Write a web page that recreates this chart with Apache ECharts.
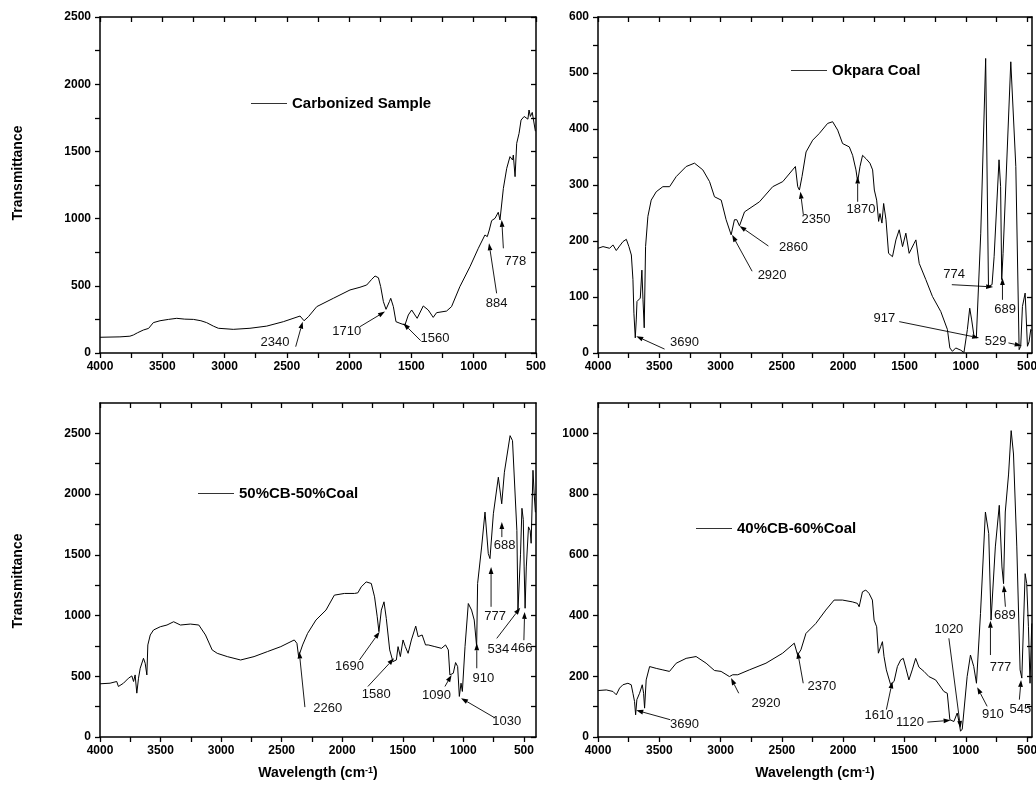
<!DOCTYPE html>
<html>
<head>
<meta charset="utf-8">
<script src="https://cdn.jsdelivr.net/npm/echarts@6/dist/echarts.min.js"></script>
<style>
html,body{margin:0;padding:0;background:#fff;}
#chart{width:1036px;height:792px;}
</style>
</head>
<body>
<div id="chart"></div>
<script>
// ---------- data (wavenumber, transmittance) ----------
const carbonized = [[4000,117],[3840,120],[3760,125],[3732,134],[3700,150],[3652,171],[3610,183],[3572,226],[3518,240],[3450,250],[3384,258],[3320,252],[3250,250],[3190,240],[3144,226],[3090,200],[3050,184],[2930,176],[2796,184],[2662,200],[2528,233],[2394,275],[2381,263],[2362,240],[2327,270],[2260,345],[2127,407],[1993,469],[1913,489],[1859,506],[1819,548],[1792,573],[1765,560],[1747,494],[1725,382],[1704,325],[1677,382],[1666,407],[1645,345],[1624,233],[1592,221],[1552,208],[1525,283],[1498,320],[1472,283],[1454,258],[1405,350],[1365,320],[1325,265],[1298,300],[1218,312],[1178,345],[1111,494],[1030,642],[963,779],[910,878],[891,866],[875,915],[856,985],[829,1002],[803,1047],[789,990],[762,1225],[735,1374],[709,1461],[688,1436],[682,1473],[668,1312],[655,1560],[636,1634],[620,1733],[595,1760],[580,1770],[565,1740],[556,1808],[545,1760],[530,1790],[515,1780],[505,1650]];

const okpara = [[4000,187],[3959,190],[3905,187],[3878,193],[3851,183],[3824,191],[3796,199],[3769,203],[3748,190],[3728,175],[3715,131],[3707,71],[3696,27],[3688,59],[3682,92],[3666,89],[3655,98],[3642,148],[3633,95],[3623,45],[3612,190],[3593,244],[3566,273],[3525,288],[3471,297],[3416,297],[3362,315],[3281,333],[3213,339],[3145,327],[3090,306],[3050,279],[2995,273],[2955,238],[2914,211],[2887,238],[2868,238],[2846,227],[2805,252],[2683,270],[2575,297],[2493,306],[2390,333],[2371,297],[2357,291],[2336,315],[2303,359],[2249,380],[2195,392],[2127,410],[2086,413],[2045,398],[2005,374],[1950,368],[1923,353],[1896,327],[1882,306],[1863,333],[1842,353],[1814,347],[1782,339],[1760,327],[1746,291],[1727,273],[1711,235],[1700,249],[1684,232],[1670,267],[1651,238],[1630,178],[1598,172],[1570,202],[1543,220],[1516,190],[1489,214],[1462,178],[1421,196],[1407,202],[1380,160],[1326,131],[1272,101],[1204,74],[1150,42],[1130,9],[1109,3],[1082,9],[1041,5],[1015,1],[987,42],[968,80],[952,59],[933,30],[914,27],[878,214],[838,526],[815,119],[786,122],[769,172],[729,345],[716,297],[707,131],[696,178],[633,520],[592,333],[565,6],[552,12],[538,83],[516,107],[497,12],[484,20],[470,42],[462,40]];

const cb50 = [[4000,438],[3917,443],[3862,457],[3848,416],[3806,443],[3765,484],[3737,503],[3723,457],[3710,511],[3696,361],[3682,484],[3668,566],[3654,558],[3641,648],[3627,607],[3613,511],[3605,758],[3585,840],[3558,881],[3502,908],[3447,922],[3392,949],[3336,922],[3254,930],[3184,922],[3129,840],[3074,717],[3032,689],[2949,662],[2839,634],[2728,662],[2618,703],[2507,744],[2396,799],[2374,771],[2360,662],[2327,758],[2286,853],[2217,963],[2134,1045],[2065,1168],[1982,1182],[1899,1182],[1871,1187],[1843,1236],[1802,1277],[1760,1264],[1733,1154],[1711,990],[1697,867],[1677,1045],[1655,1113],[1636,976],[1608,717],[1581,621],[1553,634],[1539,744],[1520,662],[1498,799],[1479,744],[1456,689],[1429,799],[1393,913],[1373,826],[1340,840],[1312,758],[1290,758],[1235,744],[1180,730],[1147,758],[1124,717],[1111,511],[1083,525],[1064,613],[1047,580],[1033,334],[1019,443],[1008,375],[986,744],[959,1099],[932,1045],[910,963],[890,744],[882,1264],[849,1564],[821,1852],[794,1510],[780,1469],[752,1838],[711,2139],[683,1920],[661,2180],[614,2481],[594,2440],[558,1701],[549,1044],[540,1060],[528,1500],[516,1883],[505,1790],[498,1400],[490,1060],[480,1400],[462,1730],[448,1700],[440,1595],[425,2196],[415,2000],[405,1850]];

const cb40 = [[4000,153],[3932,155],[3878,150],[3851,139],[3824,161],[3797,172],[3756,177],[3729,172],[3715,144],[3702,117],[3693,73],[3683,123],[3661,144],[3639,172],[3628,144],[3620,95],[3607,188],[3579,232],[3525,226],[3471,221],[3417,216],[3362,243],[3281,259],[3200,265],[3118,243],[3050,219],[2996,216],[2928,199],[2901,205],[2860,205],[2766,221],[2630,243],[2494,276],[2399,309],[2386,314],[2372,270],[2345,287],[2304,341],[2223,374],[2142,418],[2074,451],[2006,451],[1925,445],[1884,440],[1870,429],[1843,478],[1816,484],[1789,473],[1762,451],[1748,385],[1727,363],[1713,276],[1694,298],[1680,314],[1667,265],[1648,221],[1613,172],[1585,183],[1558,232],[1531,254],[1510,259],[1485,221],[1464,188],[1437,221],[1409,259],[1382,230],[1341,216],[1301,199],[1246,188],[1179,150],[1151,144],[1130,57],[1097,51],[1070,79],[1056,51],[1043,19],[1029,26],[1016,24],[989,199],[962,270],[935,232],[913,177],[880,407],[840,741],[813,670],[794,385],[780,385],[759,626],[727,763],[705,560],[692,505],[678,741],[651,866],[630,1009],[611,932],[584,626],[557,221],[543,194],[516,538],[503,505],[489,363],[476,177],[462,374]];

// ---------- annotations: [label, textX, textY, lineStartX, lineStartY, tipX, tipY] ----------
const annCarbonized = [
  ['2340',2595,77,2429,47,2373,233],
  ['1710',2020,159,1913,196,1712,308],
  ['1560',1311,109,1426,92,1565,221],
  ['884',816,370,816,444,877,816],
  ['778',665,685,762,779,775,990]
];
const annOkpara = [
  ['3690',3294,18,3457,7,3688,30],
  ['2920',2580,138,2743,146,2906,211],
  ['2860',2406,189,2610,191,2846,227],
  ['2350',2222,238,2325,247,2349,288],
  ['1870',1855,257,1882,270,1882,315],
  ['774',1095,140,1114,122,777,118],
  ['689',680,78,701,95,701,134],
  ['917',1665,62,1543,56,891,27],
  ['529',756,21,652,18,544,13]
];
const annCb50 = [
  ['2260',2120,238,2308,246,2355,703],
  ['1690',1940,580,1857,635,1691,867],
  ['1580',1719,347,1788,416,1572,648],
  ['1090',1221,339,1152,416,1097,511],
  ['1030',641,129,737,156,1019,320],
  ['910',834,484,889,566,889,771],
  ['777',737,996,771,1072,771,1400],
  ['688',660,1578,682,1646,682,1770],
  ['534',710,722,724,812,530,1064],
  ['466',518,731,500,797,494,1030]
];
const annCb40 = [
  ['3690',3295,40,3411,57,3688,88],
  ['2920',2630,112,2852,144,2915,194],
  ['2370',2174,166,2326,177,2372,281],
  ['1610',1708,71,1648,90,1599,183],
  ['1120',1455,49,1314,49,1124,55],
  ['1020',1138,354,1138,325,1043,30],
  ['910',780,75,826,101,907,164],
  ['777',717,230,799,270,799,383],
  ['689',682,402,677,429,690,500],
  ['545',555,90,563,123,549,188]
];

// ---------- labels & ticks ----------
const seriesNames = ['Carbonized Sample','Okpara Coal','50%CB-50%Coal','40%CB-60%Coal'];
const xLabels = [500,1000,1500,2000,2500,3000,3500,4000];
const xTicks = [500,750,1000,1250,1500,1750,2000,2250,2500,2750,3000,3250,3500,3750,4000];
const yLabelsCarb = [0,500,1000,1500,2000,2500];
const yTicksCarb = [0,250,500,750,1000,1250,1500,1750,2000,2250,2500];
const yLabelsOkp = [0,100,200,300,400,500,600];
const yTicksOkp = [0,50,100,150,200,250,300,350,400,450,500,550,600];
const yLabelsCb50 = [0,500,1000,1500,2000,2500];
const yTicksCb50 = [0,250,500,750,1000,1250,1500,1750,2000,2250,2500];
const yLabelsCb40 = [0,200,400,600,800,1000];
const yTicksCb40 = [0,100,200,300,400,500,600,700,800,900,1000];

const FONT = '"Liberation Sans", Arial, Helvetica, sans-serif';

const panels = [
  {data:carbonized, ann:annCarbonized, xMin:500, yMax:2500, yL:yLabelsCarb, yT:yTicksCarb,
   grid:{left:100, top:17, right:500, bottom:439}, legend:{left:251, top:96}},
  {data:okpara, ann:annOkpara, xMin:460, yMax:600, yL:yLabelsOkp, yT:yTicksOkp,
   grid:{left:598, top:17, right:4, bottom:439}, legend:{left:791, top:63}},
  {data:cb50, ann:annCb50, xMin:400, yMax:2750, yL:yLabelsCb50, yT:yTicksCb50,
   grid:{left:100, top:403, right:500, bottom:55}, legend:{left:198, top:486}},
  {data:cb40, ann:annCb40, xMin:460, yMax:1100, yL:yLabelsCb40, yT:yTicksCb40,
   grid:{left:598, top:403, right:4, bottom:55}, legend:{left:696, top:521}}
];

const axisLineStyle = {color:'#000', width:1.5};
const fmt = v => String(v);
const grids = [], xAxes = [], yAxes = [], series = [], legends = [];

function annRender(list){
  return function(params, api){
    const a = list[params.dataIndex];
    const t = api.coord([a[1], a[2]]);
    const s = api.coord([a[3], a[4]]);
    const e = api.coord([a[5], a[6]]);
    const dx = e[0]-s[0], dy = e[1]-s[1];
    const L = Math.sqrt(dx*dx+dy*dy) || 1;
    const ux = dx/L, uy = dy/L;
    const hl = 7, hw = 2.4;
    const bx = e[0]-ux*hl, by = e[1]-uy*hl;
    return {type:'group', children:[
      {type:'line', shape:{x1:s[0], y1:s[1], x2:bx, y2:by}, style:{stroke:'#000', lineWidth:0.9}},
      {type:'polygon', shape:{points:[[e[0],e[1]],[bx-uy*hw, by+ux*hw],[bx+uy*hw, by-ux*hw]]}, style:{fill:'#000'}},
      {type:'text', x:t[0], y:t[1], style:{text:a[0], align:'center', verticalAlign:'middle',
        font:'13px ' + FONT, fill:'#111'}}
    ]};
  };
}

panels.forEach((p, i) => {
  grids.push(Object.assign({containLabel:false, outerBoundsMode:'none'}, p.grid));
  xAxes.push({gridIndex:i, type:'value', inverse:true, min:p.xMin, max:4000, position:'bottom',
    axisLine:{show:true, onZero:false, lineStyle:axisLineStyle},
    axisTick:{show:true, inside:false, length:5, customValues:xTicks, lineStyle:{color:'#000', width:1.3}},
    axisLabel:{show:true, customValues:xLabels, formatter:fmt, margin:8, fontWeight:'bold', fontSize:12, color:'#000', fontFamily:FONT},
    splitLine:{show:false}});
  xAxes.push({gridIndex:i, type:'value', inverse:true, min:p.xMin, max:4000, position:'top',
    axisLine:{show:true, onZero:false, lineStyle:axisLineStyle},
    axisTick:{show:true, inside:true, length:5, customValues:xTicks, lineStyle:{color:'#000', width:1.3}},
    axisLabel:{show:false}, splitLine:{show:false}});
  yAxes.push({gridIndex:i, type:'value', min:0, max:p.yMax, position:'left',
    axisLine:{show:true, onZero:false, lineStyle:axisLineStyle},
    axisTick:{show:true, inside:false, length:5, customValues:p.yT, lineStyle:{color:'#000', width:1.3}},
    axisLabel:{show:true, customValues:p.yL, formatter:fmt, margin:9, fontWeight:'bold', fontSize:12, color:'#000', fontFamily:FONT},
    splitLine:{show:false}});
  yAxes.push({gridIndex:i, type:'value', min:0, max:p.yMax, position:'right',
    axisLine:{show:true, onZero:false, lineStyle:axisLineStyle},
    axisTick:{show:true, inside:true, length:5, customValues:p.yT, lineStyle:{color:'#000', width:1.3}},
    axisLabel:{show:false}, splitLine:{show:false}});

  series.push({type:'line', name:seriesNames[i], xAxisIndex:i*2, yAxisIndex:i*2, data:p.data,
    symbol:'none', showSymbol:false, lineStyle:{color:'#000', width:1}, itemStyle:{color:'#000'},
    animation:false, z:3});
  series.push({type:'custom', xAxisIndex:i*2, yAxisIndex:i*2, clip:false, animation:false, z:4,
    data:p.ann.map(a => [a[1], a[2]]), encode:{x:0, y:1}, renderItem:annRender(p.ann), silent:true});

  legends.push({data:[seriesNames[i]], left:p.legend.left, top:p.legend.top, padding:0,
    icon:'rect', itemWidth:36, itemHeight:1, itemStyle:{color:'#333'}, selectedMode:false,
    textStyle:{fontWeight:'bold', fontSize:15, color:'#000', fontFamily:FONT}});
});

const titleFont = 'bold 14px ' + FONT;
const graphic = [
  {type:'text', x:18, y:173, rotation:Math.PI/2, style:{text:'Transmittance', font:titleFont, fill:'#000', align:'center', verticalAlign:'middle'}},
  {type:'text', x:18, y:581, rotation:Math.PI/2, style:{text:'Transmittance', font:titleFont, fill:'#000', align:'center', verticalAlign:'middle'}},
  {type:'text', x:318, y:773, style:{text:'{a|Wavelength (cm}{b|-1}{a|)}', align:'center', verticalAlign:'middle',
     rich:{a:{font:titleFont, fill:'#000'}, b:{font:'bold 9px ' + FONT, fill:'#000', verticalAlign:'top'}}}},
  {type:'text', x:815, y:773, style:{text:'{a|Wavelength (cm}{b|-1}{a|)}', align:'center', verticalAlign:'middle',
     rich:{a:{font:titleFont, fill:'#000'}, b:{font:'bold 9px ' + FONT, fill:'#000', verticalAlign:'top'}}}}
];

const chart = echarts.init(document.getElementById('chart'), null, {renderer:'canvas'});
chart.setOption({
  backgroundColor:'#fff',
  animation:false,
  grid:grids, xAxis:xAxes, yAxis:yAxes, series:series, legend:legends, graphic:graphic
});
</script>
</body>
</html>
